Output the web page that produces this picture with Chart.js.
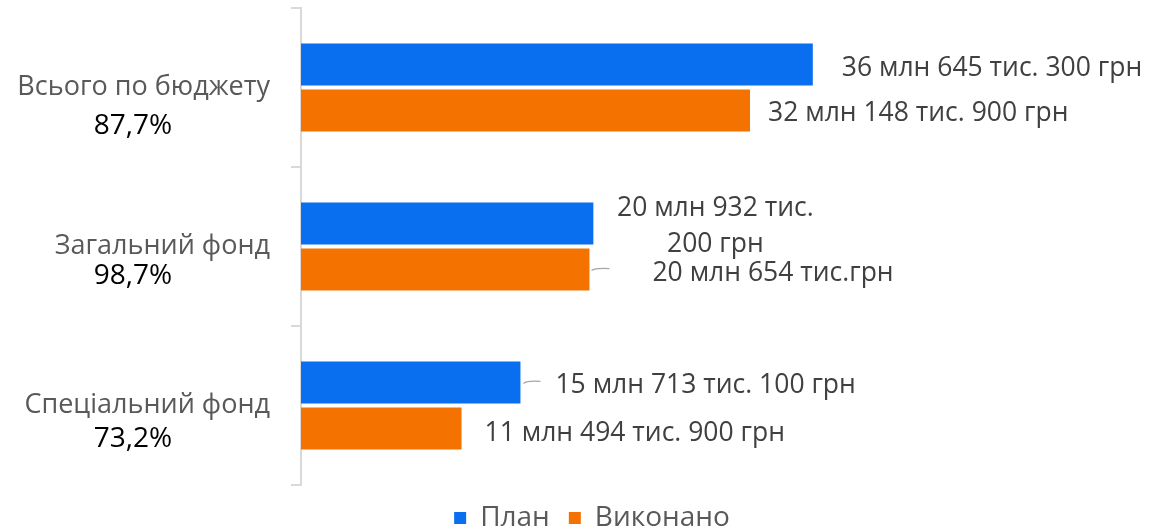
<!DOCTYPE html>
<html>
<head>
<meta charset="utf-8">
<script src="https://cdn.jsdelivr.net/npm/chart.js@4"></script>
<style>
  body { margin: 0; background: #fff; }
  #wrap { width: 1160px; height: 530px; }
</style>
</head>
<body>
<div id="wrap"><canvas id="budgetChart" width="1160" height="530"></canvas></div>
<script>
// категорії та відсотки виконання
const categories = ['Всього по бюджету', 'Загальний фонд', 'Спеціальний фонд'];
const percents = ['87,7%', '98,7%', '73,2%'];

// значення, тис. грн
const planValues = [36645.3, 20932.2, 15713.1];
const factValues = [32148.9, 20654.0, 11494.9];

// підписи до стовпців
const planLabels = [['36 млн 645 тис. 300 грн'], ['20 млн 932 тис.', '200 грн'], ['15 млн 713 тис. 100 грн']];
const factLabels = [['32 млн 148 тис. 900 грн'], ['20 млн 654 тис.грн'], ['11 млн 494 тис. 900 грн']];

const FONT = "'Open Sans', 'DejaVu Sans', sans-serif";

// розміщення підписів відносно кінця стовпця
const labelPos = {
    0: [ { dx: 29, dy: 4, align: 'left' }, { dx: 122, dy: -15, align: 'center', lh: 36 }, { dx: 35, dy: 3, align: 'left', lead: [3, 20] } ],
    1: [ { dx: 18, dy: 3, align: 'left' }, { dx: 63, dy: 4, align: 'left', lead: [2, 20] }, { dx: 23, dy: 5, align: 'left' } ]
};
const pctOffset = [39, 30, 34];

const barLabelsPlugin = {
    id: 'barLabels',
    afterDatasetsDraw(chart) {
        const ctx = chart.ctx;
        ctx.save();
        ctx.font = '26.5px ' + FONT;
        ctx.fillStyle = '#404040';
        ctx.textBaseline = 'middle';
        chart.data.datasets.forEach((ds, di) => {
            const meta = chart.getDatasetMeta(di);
            meta.data.forEach((bar, i) => {
                const pos = labelPos[di][i];
                const lines = ds.labelText[i];
                const x = bar.x + pos.dx;
                if (pos.lead) {
                    ctx.strokeStyle = '#a6a6a6';
                    ctx.lineWidth = 1.2;
                    ctx.beginPath();
                    ctx.moveTo(bar.x + pos.lead[0], bar.y + 1);
                    ctx.quadraticCurveTo(bar.x + pos.lead[0] + 4, bar.y - 2, bar.x + pos.lead[1], bar.y - 1);
                    ctx.stroke();
                }
                ctx.textAlign = pos.align;
                lines.forEach((t, li) => {
                    ctx.fillText(t, x, bar.y + pos.dy + li * (pos.lh || 0));
                });
            });
        });
        ctx.restore();
    }
};

const categoryLabelsPlugin = {
    id: 'categoryLabels',
    afterDraw(chart) {
        const ctx = chart.ctx;
        const yScale = chart.scales.y;
        ctx.save();
        ctx.textBaseline = 'middle';
        categories.forEach((c, i) => {
            const y = yScale.getPixelForValue(i);
            ctx.font = '27px ' + FONT;
            ctx.textAlign = 'right';
            ctx.fillStyle = '#595959';
            ctx.fillText(c, 270, y);
            ctx.font = '28px ' + FONT;
            ctx.textAlign = 'center';
            ctx.fillStyle = '#000000';
            ctx.fillText(percents[i], 133, y + pctOffset[i]);
        });
        ctx.restore();
    }
};

const ctx = document.getElementById('budgetChart').getContext('2d');
new Chart(ctx, {
    type: 'bar',
    data: {
        labels: categories,
        datasets: [
            { label: 'План', data: planValues, backgroundColor: '#0A6FEF', labelText: planLabels,
              categoryPercentage: 0.58, barPercentage: 0.91 },
            { label: 'Виконано', data: factValues, backgroundColor: '#F47200', labelText: factLabels,
              categoryPercentage: 0.58, barPercentage: 0.91 }
        ]
    },
    options: {
        indexAxis: 'y',
        responsive: false,
        animation: false,
        layout: { padding: { left: 45, right: 21, top: 8, bottom: -12 } },
        scales: {
            x: {
                display: false,
                min: 0,
                max: 60000
            },
            y: {
                afterFit(scale) { scale.width = 256; },
                grid: { drawOnChartArea: false, drawTicks: true, tickLength: 10, color: '#d9d9d9', lineWidth: 2 },
                border: { display: true, color: '#d9d9d9', width: 2 },
                ticks: { display: false }
            }
        },
        plugins: {
            legend: {
                position: 'bottom',
                labels: {
                    usePointStyle: true,
                    pointStyle: 'rect',
                    boxWidth: 12,
                    boxHeight: 12,
                    padding: 19,
                    color: '#595959',
                    font: { family: FONT, size: 28 }
                }
            },
            tooltip: { enabled: false }
        }
    },
    plugins: [barLabelsPlugin, categoryLabelsPlugin]
});
</script>
</body>
</html>
